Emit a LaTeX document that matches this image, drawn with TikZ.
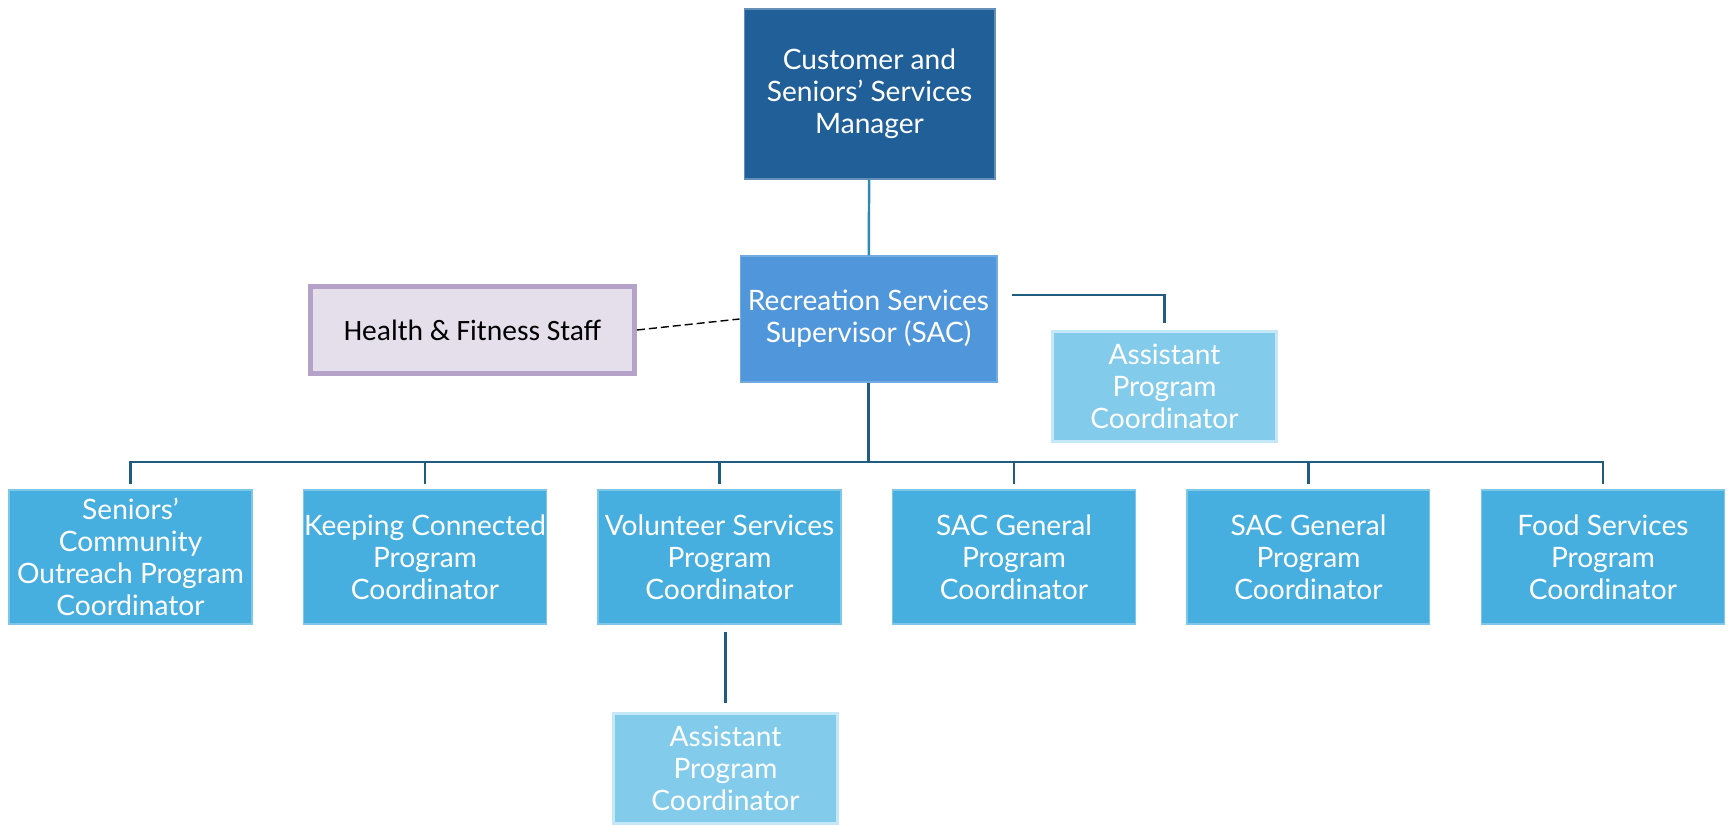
\documentclass[tikz,border=0pt]{standalone}
\usepackage{fontspec}
\setmainfont{Lato}
\newfontfamily\calibrifont{Carlito}
\usetikzlibrary{positioning}

\definecolor{mgrblue}{RGB}{33,95,153}
\definecolor{supblue}{RGB}{79,150,218}
\definecolor{rowblue}{RGB}{71,175,224}
\definecolor{asstblue}{RGB}{131,203,235}
\definecolor{asstedge}{RGB}{196,232,247}
\definecolor{hfill}{RGB}{229,223,236}
\definecolor{hedge}{RGB}{180,162,200}
\definecolor{linkblue}{RGB}{31,92,128}
\definecolor{toplink}{RGB}{46,138,178}

\tikzset{
  orgbox/.style={align=center, text=white, inner sep=0pt,
    font=\fontsize{16}{18.2}\selectfont, line width=0.6pt},
  mgrbox/.style={orgbox, fill=mgrblue, draw=mgrblue!70!white,
    minimum width=5.02cm, minimum height=3.4cm},
  supbox/.style={orgbox, fill=supblue, draw=supblue!80!white,
    minimum width=5.14cm, minimum height=2.52cm},
  rowbox/.style={orgbox, fill=rowblue, draw=rowblue!70!white,
    minimum width=4.86cm, minimum height=2.68cm},
  asstbox/.style={orgbox, fill=asstblue, draw=asstedge, line width=1.6pt,
    minimum width=4.48cm, minimum height=2.2cm},
  staffbox/.style={fill=hfill, draw=hedge, line width=0.1cm, inner sep=0pt,
    font=\calibrifont\fontsize{16.8}{18}\selectfont,
    minimum width=6.48cm, minimum height=1.76cm},
  link/.style={draw=linkblue, line width=1.4pt},
}

\begin{document}
\begin{tikzpicture}[x=0.02cm, y=-0.02cm]
  \useasboundingbox (0,0) rectangle (1729,825);

  % Draw the top two levels
  \node[mgrbox] (mgr) at (869.5,94) {Customer and\\Seniors’ Services\\Manager};
  \node[supbox] (sup) at (868.5,319) {Recreation Services\\Supervisor (SAC)};
  \node[staffbox] (staff) at (472.5,330) {Health \& Fitness Staff};
  \node[asstbox] (asst1) at (1164.5,386.5) {Assistant\\Program\\Coordinator};

  % Draw the coordinator row
  \node[rowbox] (c1) at (130.5,557) {Seniors’\\Community\\Outreach Program\\Coordinator};
  \node[rowbox, right=1.01cm of c1] (c2) {Keeping Connected\\Program\\Coordinator};
  \node[rowbox, right=1.01cm of c2] (c3) {Volunteer Services\\Program\\Coordinator};
  \node[rowbox, right=1.01cm of c3] (c4) {SAC General\\Program\\Coordinator};
  \node[rowbox, right=1.01cm of c4] (c5) {SAC General\\Program\\Coordinator};
  \node[rowbox, right=1.01cm of c5] (c6) {Food Services\\Program\\Coordinator};

  \node[asstbox] (asst2) at (725.5,768.5) {Assistant\\Program\\Coordinator};

  % Draw the lines between the boxes
  \draw[draw=toplink, line width=1.4pt] (mgr) -- (sup);
  \draw[dashed, dash pattern=on 0.16cm off 0.08cm, line width=0.8pt] (staff.east) -- (sup.west);

  \coordinate (bus) at (868.5,462);
  \draw[link] (sup) -- (bus);
  \foreach \i in {1,...,6}
    \draw[link, shorten >=0.1cm] (bus) -| (c\i.north);

  \coordinate (side) at (1012,295);
  \draw[link, shorten >=0.14cm] (side) -| (asst1.north);

  \draw[link, shorten <=0.14cm, shorten >=0.18cm] (asst2.north |- c3.south) -- (asst2.north);
\end{tikzpicture}
\end{document}
